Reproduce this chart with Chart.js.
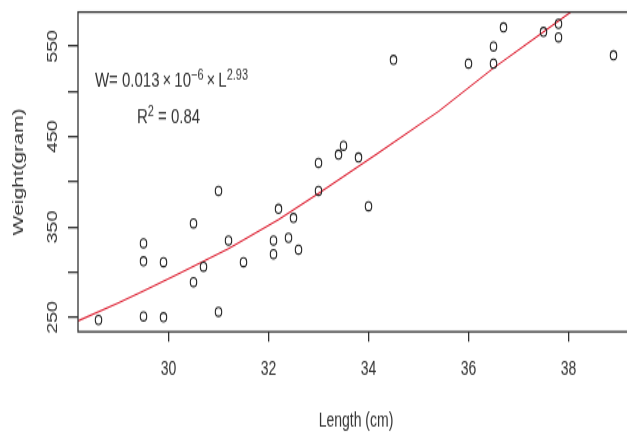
<!DOCTYPE html>
<html>
<head>
<meta charset="utf-8">
<script src="https://cdn.jsdelivr.net/npm/chart.js@4"></script>
<style>
  html, body { margin: 0; padding: 0; background: #fff; overflow: hidden; }
  #wrap { width: 627px; height: 435px; overflow: hidden; }
</style>
</head>
<body>
<div id="wrap">
  <!-- drawn at 640x311 and stretched to 435px tall, like the squashed original -->
  <canvas id="chart" width="640" height="311" style="width:640px;height:435px"></canvas>
</div>
<script>
// observed fish: length (cm) and weight (gram)
const lengths = [28.6, 29.5, 29.5, 29.5, 29.9, 29.9, 30.5, 30.5, 30.7, 31.0,
  31.0, 31.2, 31.5, 32.1, 32.1, 32.2, 32.4, 32.5, 32.6, 33.0,
  33.0, 33.4, 33.5, 33.8, 34.0, 34.5, 36.0, 36.5, 36.5, 36.7,
  37.5, 37.8, 37.8, 38.9];
const weights = [247, 332, 312, 251, 311, 250, 354, 289, 306, 390,
  256, 335, 311, 335, 320, 370, 338, 360, 325, 421,
  390, 430, 440, 427, 373, 535, 531, 550, 531, 571,
  566, 575, 560, 540];

// red fitted curve
const fitLengths = [28.19, 29.0, 29.5, 30.2, 31.2, 32.2, 33.0, 34.2, 35.4, 36.5, 37.5, 38.05];
const fitWeights = [246, 266, 279, 298, 326, 358, 387, 432, 478, 526, 566, 588];

const xTicks = [30, 32, 34, 36, 38];
const yTicks = [250, 300, 350, 400, 450, 500, 550];
const yTickLabels = [250, 350, 450, 550];

// annotation anchor (data coords, text baselines)
const annoX = 30;
const annoY = [505, 465];

const FONT = "'Liberation Sans', Arial, sans-serif";
const INK = "#333";

function drawRich(ctx, parts, cx, cy) {
  let total = 0;
  parts.forEach((p) => {
    ctx.font = (p.sup ? "11px " : "15px ") + FONT;
    p.w = ctx.measureText(p.t).width;
    total += p.w;
  });
  let x = cx - total / 2;
  parts.forEach((p) => {
    ctx.font = (p.sup ? "11px " : "15px ") + FONT;
    ctx.fillText(p.t, x, p.sup ? cy - 5 : cy);
    x += p.w;
  });
}

// box around the plot, rotated y labels and the formula
const decorations = {
  id: "decorations",
  afterDraw(chart) {
    const { ctx, chartArea: a, scales } = chart;
    ctx.save();
    ctx.strokeStyle = "#333";
    ctx.lineWidth = 1.3;
    ctx.strokeRect(a.left, a.top, a.right - a.left, a.bottom - a.top);

    ctx.fillStyle = INK;
    ctx.font = "14px " + FONT;
    ctx.textAlign = "center";
    ctx.textBaseline = "middle";
    yTickLabels.forEach((v) => {
      ctx.save();
      ctx.translate(a.left - 25, scales.y.getPixelForValue(v));
      ctx.rotate(-Math.PI / 2);
      ctx.fillText(String(v), 0, 0);
      ctx.restore();
    });

    ctx.textAlign = "left";
    ctx.textBaseline = "alphabetic";
    const cx = scales.x.getPixelForValue(annoX);
    drawRich(ctx, [
      { t: "W= 0.013\u2009\u00d7\u200910" },
      { t: "\u22126", sup: true },
      { t: "\u2009\u00d7\u2009L" },
      { t: "2.93", sup: true },
    ], cx + 3, scales.y.getPixelForValue(annoY[0]));
    drawRich(ctx, [
      { t: "R" },
      { t: "2", sup: true },
      { t: " = 0.84" },
    ], cx, scales.y.getPixelForValue(annoY[1]));
    ctx.restore();
  },
};

const ctx = document.getElementById("chart").getContext("2d");
new Chart(ctx, {
  type: "scatter",
  data: {
    datasets: [
      {
        label: "Observed",
        data: lengths.map((l, i) => ({ x: l, y: weights[i] })),
        pointStyle: "circle",
        pointRadius: 3.2,
        backgroundColor: "rgba(0,0,0,0)",
        borderColor: "#222",
        borderWidth: 1.1,
      },
      {
        label: "Fit",
        data: fitLengths.map((l, i) => ({ x: l, y: fitWeights[i] })),
        showLine: true,
        pointRadius: 0,
        borderColor: "#dc1e30",
        borderWidth: 1.1,
        tension: 0,
      },
    ],
  },
  options: {
    responsive: false,
    devicePixelRatio: 1,
    animation: false,
    layout: { padding: { top: 8.6, right: 6, left: 0, bottom: 0 } },
    plugins: {
      legend: { display: false },
      tooltip: { enabled: false },
    },
    scales: {
      x: {
        type: "linear",
        min: 28.19,
        max: 39.31,
        afterBuildTicks: (s) => { s.ticks = xTicks.map((v) => ({ value: v })); },
        afterFit: (s) => { s.height = 73.85; },
        grid: { drawOnChartArea: false, drawTicks: true, tickLength: 7, color: "#333", lineWidth: 1.3 },
        border: { display: false },
        ticks: { padding: 12, color: INK, maxRotation: 0, font: { family: FONT, size: 14 } },
        title: {
          display: true,
          text: "Length (cm)",
          color: INK,
          font: { family: FONT, size: 14 },
          padding: { top: 0, bottom: 1 },
        },
      },
      y: {
        type: "linear",
        min: 234,
        max: 588,
        afterBuildTicks: (s) => { s.ticks = yTicks.map((v) => ({ value: v })); },
        afterFit: (s) => { s.width = 78; },
        grid: { drawOnChartArea: false, drawTicks: true, tickLength: 10, color: "#333", lineWidth: 1.3 },
        border: { display: false },
        ticks: { display: false },
        title: {
          display: true,
          text: "Weight(gram)",
          color: INK,
          font: { family: FONT, size: 15 },
          padding: { top: 10, bottom: 0 },
        },
      },
    },
  },
  plugins: [decorations],
});
</script>
</body>
</html>
